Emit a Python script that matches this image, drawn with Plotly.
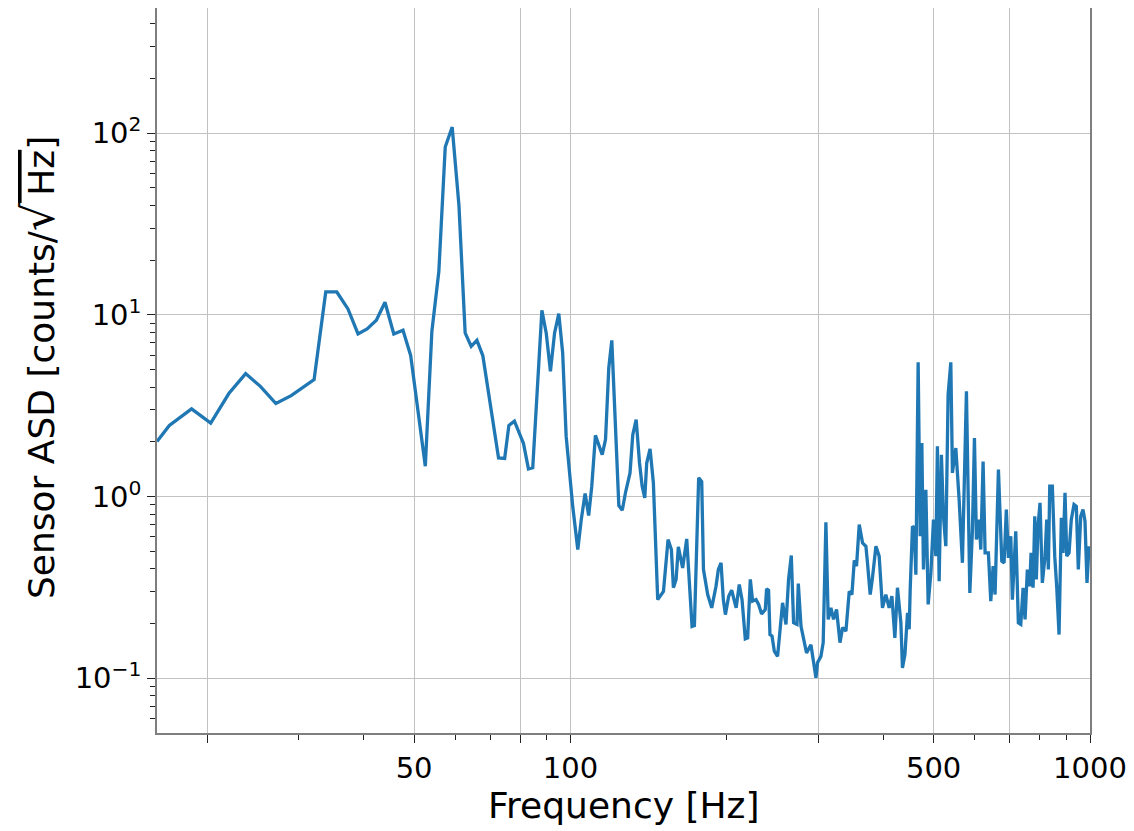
import math
import plotly.graph_objects as go

freq = [16.0, 16.9, 18.65, 20.3, 22.0, 23.7, 25.3, 27.1, 29.0, 32.1,
        33.8, 35.5, 37.3, 39.0, 40.6, 42.3, 43.95, 45.7, 47.6, 49.25,
        52.55, 54.1, 55.8, 57.4, 59.2, 61.0, 62.7, 64.4, 66.05, 67.8,
        72.7, 74.7, 76.1, 78.0, 81.2, 83.0, 84.6, 88.1, 89.8, 91.5,
        93.2, 94.95, 96.6, 98.1, 101.0, 103.3, 104.9, 106.7, 108.4, 109.9,
        111.7, 115.1, 116.8, 118.5, 120.1, 122.0, 123.9, 125.8, 127.6, 130.2,
        131.8, 133.8, 135.8, 137.4, 139.0, 140.2, 142.3, 144.4, 147.2, 151.0,
        154.1, 156.4, 157.8, 159.7, 161.3, 164.4, 167.4, 171.4, 173.2, 176.5,
        178.9, 180.3, 183.7, 187.0, 190.6, 192.6, 194.9, 196.9, 198.7, 201.6,
        204.3, 208.4, 211.3, 213.9, 217.0, 219.3, 221.9, 224.2, 227.6, 230.2,
        233.3, 237.1, 238.5, 240.6, 242.1, 244.3, 246.8, 250.4, 254.2, 256.0,
        259.9, 262.9, 266.1, 268.8, 272.9, 274.5, 277.8, 281.8, 284.7, 290.3,
        294.6, 296.8, 299.0, 303.4, 306.5, 310.2, 313.4, 317.2, 320.9, 325.2,
        330.2, 334.0, 339.0, 344.0, 348.1, 351.8, 355.3, 359.6, 364.9, 370.4,
        373.0, 377.5, 381.3, 387.2, 392.8, 398.6, 404.6, 410.6, 415.6, 421.1,
        426.0, 432.5, 435.5, 440.3, 445.4, 448.7, 450.7, 455.3, 458.7, 462.2,
        466.9, 471.1, 474.6, 478.0, 483.1, 488.1, 494.0, 499.7, 505.0, 508.5,
        512.4, 517.6, 522.3, 527.8, 533.2, 539.6, 543.5, 551.7, 559.9, 568.1,
        578.3, 587.1, 593.9, 599.2, 604.5, 611.7, 616.3, 622.6, 628.2, 637.4,
        644.2, 650.9, 656.6, 666.4, 676.4, 683.3, 690.2, 696.5, 703.9, 708.9,
        719.6, 728.0, 735.8, 743.4, 749.9, 757.6, 765.6, 770.1, 777.0, 782.9,
        788.3, 794.3, 801.3, 809.6, 819.4, 825.5, 831.4, 836.6, 846.3, 855.3,
        863.0, 871.8, 880.7, 887.4, 895.2, 902.1, 911.3, 920.4, 931.6, 941.2,
        949.5, 959.7, 969.4, 978.1, 986.8, 995.5]

asd = [2.01, 2.46, 3.04, 2.54, 3.69, 4.75, 4.04, 3.25, 3.59, 4.40,
       13.36, 13.36, 10.78, 7.85, 8.36, 9.33, 11.72, 7.85, 8.22, 5.97,
       1.47, 8.12, 17.35, 83.8, 108.0, 40.0, 7.95, 6.71, 7.24, 5.97,
       1.63, 1.62, 2.46, 2.60, 1.96, 1.42, 1.44, 10.59, 7.95, 4.89,
       7.95, 10.15, 6.17, 2.15, 0.884, 0.511, 0.747, 1.04, 0.786, 1.14,
       2.17, 1.70, 2.06, 5.10, 7.24, 2.77, 0.892, 0.841, 1.05, 1.35,
       2.19, 2.65, 1.53, 1.14, 0.984, 1.53, 1.83, 1.19, 0.271, 0.301,
       0.580, 0.511, 0.315, 0.350, 0.529, 0.405, 0.585, 0.193, 0.195, 1.27,
       1.21, 0.397, 0.289, 0.244, 0.321, 0.397, 0.432, 0.271, 0.224, 0.283,
       0.305, 0.244, 0.328, 0.271, 0.165, 0.167, 0.350, 0.266, 0.271, 0.255,
       0.226, 0.239, 0.311, 0.305, 0.174, 0.171, 0.141, 0.132, 0.229, 0.260,
       0.198, 0.350, 0.474, 0.202, 0.198, 0.332, 0.193, 0.157, 0.138, 0.153,
       0.114, 0.1006, 0.122, 0.132, 0.157, 0.722, 0.211, 0.244, 0.211, 0.239,
       0.157, 0.190, 0.182, 0.301, 0.289, 0.446, 0.414, 0.701, 0.556, 0.533,
       0.432, 0.289, 0.357, 0.533, 0.470, 0.244, 0.289, 0.244, 0.283, 0.167,
       0.315, 0.202, 0.114, 0.135, 0.229, 0.186, 0.308, 0.687, 0.673, 0.372,
       5.48, 0.605, 1.97, 0.397, 1.09, 0.255, 0.380, 0.747, 0.470, 1.89,
       0.342, 1.70, 0.779, 0.533, 3.64, 5.48, 1.35, 1.85, 0.96, 0.432,
       3.80, 0.295, 0.658, 2.10, 0.580, 0.747, 0.511, 1.56, 0.490, 0.490,
       0.266, 0.414, 0.289, 1.41, 0.441, 0.432, 0.848, 0.460, 0.605, 0.271,
       0.644, 0.202, 0.198, 0.315, 0.211, 0.397, 0.321, 0.490, 0.315, 0.779,
       0.350, 0.687, 0.923, 0.335, 0.470, 0.747, 0.397, 1.14, 1.14, 0.470,
       0.315, 0.174, 0.764, 0.490, 1.05, 0.470, 0.490, 0.747, 0.904, 0.884,
       0.397, 0.779, 0.848, 0.731, 0.335, 0.533]

x_major = [20, 50, 80, 100, 300, 500, 700, 1000]
x_major_text = ["", "50", "", "100", "", "500", "", "1000"]
x_minor = [30, 40, 60, 70, 90, 200, 400, 600, 800, 900]
y_major = [0.1, 1, 10, 100]
y_major_text = ["10<sup>−1</sup>", "10<sup>0</sup>", "10<sup>1</sup>", "10<sup>2</sup>"]
y_minor = [0.06, 0.07, 0.08, 0.09,
           0.2, 0.3, 0.4, 0.5, 0.6, 0.7, 0.8, 0.9,
           2, 3, 4, 5, 6, 7, 8, 9,
           20, 30, 40, 50, 60, 70, 80, 90,
           200, 300, 400]
x_lim = [16, 1000]
y_lim = [0.05, 488]
x_title = "Frequency [Hz]"
y_title = ("Sensor ASD [counts/<span style='font-size:44px'>√</span>"
           "<span style='text-decoration:overline'>\u2009Hz</span>]")

FONT = "DejaVu Sans"

fig = go.Figure()
fig.add_trace(go.Scatter(x=freq, y=asd, mode="lines",
                         line=dict(color="#1f77b4", width=3.3),
                         showlegend=False, hoverinfo="x+y"))

axis_common = dict(
    type="log", automargin=False,
    showline=True, linecolor="#7f7f7f", linewidth=1.5, mirror=True,
    showgrid=True, gridcolor="#c2c2c2", gridwidth=1.2,
    zeroline=False,
    ticks="outside", ticklen=8, tickwidth=1.3, tickcolor="#222222",
    tickfont=dict(family=FONT, size=29, color="black"),
    tickmode="array",
)

fig.update_xaxes(
    **axis_common,
    range=[math.log10(x_lim[0]), math.log10(x_lim[1])],
    tickvals=x_major, ticktext=x_major_text,
    minor=dict(tickmode="array", tickvals=x_minor, ticks="outside",
               ticklen=5, tickwidth=1.1, tickcolor="#222222", showgrid=False),
)
fig.update_yaxes(
    **axis_common,
    range=[math.log10(y_lim[0]), math.log10(y_lim[1])],
    tickvals=y_major, ticktext=y_major_text,
    minor=dict(tickmode="array", tickvals=y_minor, ticks="outside",
               ticklen=5, tickwidth=1.1, tickcolor="#222222", showgrid=False),
)

# the page body adds an 8 px offset; margins compensate for it
L, R, T, B = 149, 52, 0, 106
W, H = 1134, 831
pw, ph = W - L - R, H - T - B

fig.add_annotation(text=x_title, xref="paper", yref="paper",
                   x=0.5, y=((H - B) - 797) / ph, xanchor="center", yanchor="middle",
                   showarrow=False, font=dict(family=FONT, size=36, color="black"))
fig.add_annotation(text=y_title, xref="paper", yref="paper",
                   x=(30 - L) / pw, y=((H - B) - 360) / ph, xanchor="center", yanchor="middle",
                   textangle=-90, showarrow=False,
                   font=dict(family=FONT, size=36, color="black"))

fig.update_layout(
    width=W, height=H,
    margin=dict(l=L, r=R, t=T, b=B),
    paper_bgcolor="white", plot_bgcolor="white",
    font=dict(family=FONT, color="black"),
)

fig.write_html("out.html")
